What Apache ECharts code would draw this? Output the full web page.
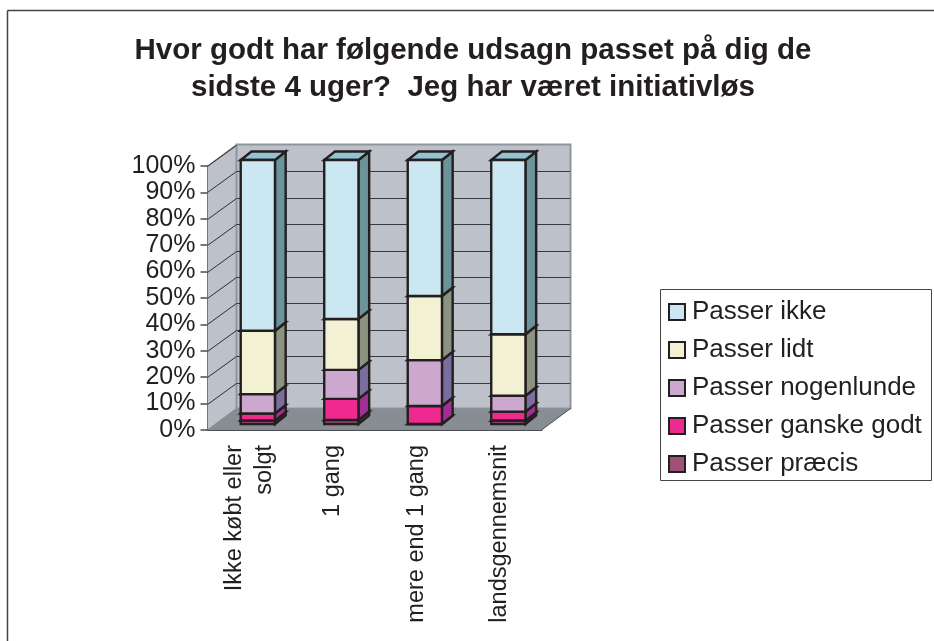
<!DOCTYPE html>
<html>
<head>
<meta charset="utf-8">
<style>
    html, body { margin: 0; padding: 0; background: #fff; }
    #chart { width: 934px; height: 641px; }
</style>
<script src="https://cdn.jsdelivr.net/npm/echarts@6/dist/echarts.min.js"></script>
</head>
<body>
<div id="chart"></div>
<script>
var categories = ['Ikke købt eller\nsolgt', '1 gang', 'mere end 1 gang', 'landsgennemsnit'];
var seriesNames = ['Passer præcis', 'Passer ganske godt', 'Passer nogenlunde', 'Passer lidt', 'Passer ikke'];
var legendOrder = ['Passer ikke', 'Passer lidt', 'Passer nogenlunde', 'Passer ganske godt', 'Passer præcis'];

// procent pr. kategori, nederst i stakken foerst
var precisValues = [1.3, 1.5, 0, 1.3];
var godtValues = [2.7, 8, 6.8, 3.4];
var nogenlundeValues = [7.3, 11, 17.4, 6];
var lidtValues = [24, 19.3, 24.3, 23.3];
var ikkeValues = [64.7, 60.2, 51.5, 66];
var gridTicks = [10, 20, 30, 40, 50, 60, 70, 80, 90, 100];

var frontColors = ['#A05078', '#EE2A90', '#CCA8CF', '#F2F1D3', '#CBE8F2'];
var sideColors = ['#7A2F6B', '#A03096', '#7A6E9F', '#8A9380', '#6C929A'];
var topColors = ['#B0608A', '#F04EA0', '#D6B8D8', '#F6F5E0', '#94C3D1'];

var INK = '#231F20';
// forskydning af bagvaeg og soejledybde
var WALL_DX = 29, WALL_DY = 21.5;
var BAR_DX = 10.7, BAR_DY = 8.5;
var BAR_SHIFT_X = 8.6, BAR_SHIFT_Y = 6;

var allValues = [precisValues, godtValues, nogenlundeValues, lidtValues, ikkeValues];

function poly(points, fill, stroke, lineWidth) {
    return {
        type: 'polygon',
        shape: { points: points },
        style: { fill: fill, stroke: stroke || null, lineWidth: lineWidth || 0, lineJoin: 'miter' }
    };
}

function line(x1, y1, x2, y2, color, width) {
    return {
        type: 'line',
        shape: { x1: x1, y1: y1, x2: x2, y2: y2 },
        style: { stroke: color, lineWidth: width }
    };
}

function renderWalls(params, api) {
    var g = params.coordSys;
    var left = g.x, right = g.x + g.width, bottom = g.y + g.height, top = g.y;
    var children = [
        poly([[left, bottom], [left, top], [left + WALL_DX, top - WALL_DY], [left + WALL_DX, bottom - WALL_DY]], '#BDC1C9', '#70777C', 1),
        poly([[left + WALL_DX, top - WALL_DY], [right + WALL_DX, top - WALL_DY], [right + WALL_DX, bottom - WALL_DY], [left + WALL_DX, bottom - WALL_DY]], '#BDC1C9', '#8D979B', 2),
        poly([[left, bottom], [right, bottom], [right + WALL_DX, bottom - WALL_DY], [left + WALL_DX, bottom - WALL_DY]], '#878D93')
    ];
    gridTicks.forEach(function (t) {
        var y = Math.round(api.coord([0, t])[1]) + 0.5;
        var by = Math.round(y - WALL_DY) + 0.5;
        children.push(line(left, y, left + WALL_DX, by, '#2E2E30', 1));
        if (t < 100) {
            children.push(line(left + WALL_DX, by, right + WALL_DX, by, '#3A3A3C', 1));
        }
    });
    children.push(line(right, bottom, right + WALL_DX, bottom - WALL_DY, '#4A4D50', 1));
    return { type: 'group', children: children };
}

function makeBarRenderer(idx) {
    return function (params, api) {
        var cat = api.value(0);
        var base = api.value(2);
        var end = base + api.value(1);
        var width = api.size([1, 0])[0] * 0.41;
        var cx = api.coord([cat, 0])[0] + BAR_SHIFT_X;
        var x0 = cx - width / 2, x1 = cx + width / 2;
        var y0 = api.coord([cat, base])[1] - BAR_SHIFT_Y;
        var y1 = api.coord([cat, end])[1] - BAR_SHIFT_Y;
        return {
            type: 'group',
            children: [
                poly([[x1, y0], [x1 + BAR_DX, y0 - BAR_DY], [x1 + BAR_DX, y1 - BAR_DY], [x1, y1]], sideColors[idx], INK, 2.4),
                poly([[x0, y1], [x1, y1], [x1 + BAR_DX, y1 - BAR_DY], [x0 + BAR_DX, y1 - BAR_DY]], topColors[idx], INK, 2.4),
                poly([[x0, y0], [x1, y0], [x1, y1], [x0, y1]], frontColors[idx], INK, 2.4)
            ]
        };
    };
}

var series = [{
    type: 'custom',
    silent: true,
    renderItem: renderWalls,
    data: [[0]],
    z: 1
}];

seriesNames.forEach(function (name, idx) {
    var rows = categories.map(function (c, i) {
        var base = 0;
        for (var k = 0; k < idx; k++) {
            base += allValues[k][i];
        }
        return [i, allValues[idx][i], base];
    });
    series.push({
        name: name,
        type: 'custom',
        renderItem: makeBarRenderer(idx),
        encode: { x: 0, y: 1 },
        itemStyle: { color: frontColors[idx] },
        data: rows,
        z: 2 + idx
    });
});

var chart = echarts.init(document.getElementById('chart'), null, { renderer: 'canvas' });
chart.setOption({
    animation: false,
    backgroundColor: '#fff',
    title: {
        text: 'Hvor godt har følgende udsagn passet på dig de\nsidste 4 uger?  Jeg har været initiativløs',
        left: 468,
        top: 27,
        textAlign: 'center',
        textStyle: {
            fontFamily: 'Liberation Sans',
            fontSize: 29.5,
            fontWeight: 'bold',
            color: INK,
            lineHeight: 37.5
        }
    },
    grid: { left: 207.5, top: 166, width: 334, height: 264 },
    xAxis: {
        type: 'category',
        data: categories,
        axisLine: { lineStyle: { color: '#4A4D50', width: 2 } },
        axisTick: { length: 7, lineStyle: { color: '#4A4D50', width: 1.5 } },
        axisLabel: {
            interval: 0,
            rotate: 90,
            margin: 15,
            fontFamily: 'Liberation Sans',
            fontSize: 23.5,
            lineHeight: 30,
            color: INK
        }
    },
    yAxis: {
        type: 'value',
        min: 0,
        max: 100,
        interval: 10,
        splitLine: { show: false },
        axisLine: { show: true, lineStyle: { color: '#4A4D50', width: 2 } },
        axisTick: { show: true, length: 7, lineStyle: { color: '#4A4D50', width: 1.5 } },
        axisLabel: {
            margin: 12,
            formatter: '{value}%',
            fontFamily: 'Liberation Sans',
            fontSize: 25,
            color: INK
        }
    },
    legend: {
        orient: 'vertical',
        left: 663,
        top: 294,
        data: legendOrder,
        icon: 'rect',
        itemWidth: 16,
        itemHeight: 16,
        itemGap: 12,
        selectedMode: false,
        itemStyle: { borderColor: INK, borderWidth: 2 },
        textStyle: {
            fontFamily: 'Liberation Sans',
            fontSize: 26,
            color: INK,
            padding: [0, 0, 0, 2]
        }
    },
    graphic: [
        { type: 'line', shape: { x1: 7.5, y1: 10.5, x2: 934, y2: 10.5 }, style: { stroke: '#444', lineWidth: 1.5 } },
        { type: 'line', shape: { x1: 7.5, y1: 10.5, x2: 7.5, y2: 641 }, style: { stroke: '#444', lineWidth: 1.5 } },
        { type: 'rect', shape: { x: 660.5, y: 289.5, width: 271, height: 191 }, style: { fill: 'none', stroke: '#444', lineWidth: 1 } }
    ],
    series: series
});
</script>
</body>
</html>
